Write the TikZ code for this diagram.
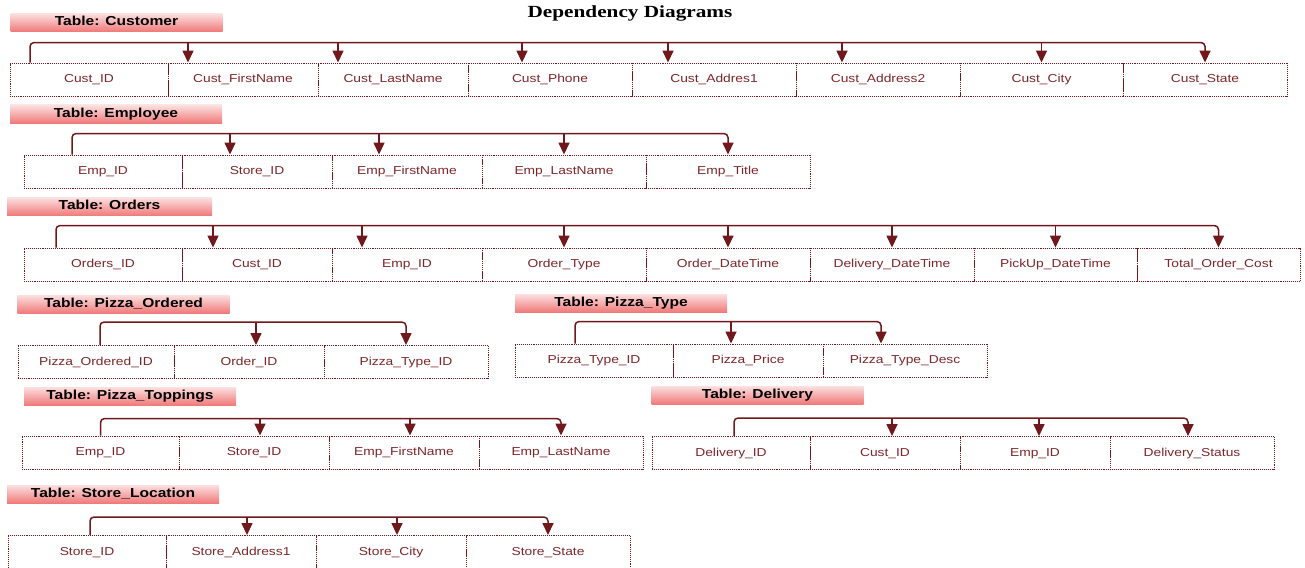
\documentclass[tikz,border=0pt]{standalone}
\usepackage{fontspec}
\newfontfamily\cellfont[FakeStretch=1.2]{Liberation Sans}
\newfontfamily\headfont[FakeStretch=1.25]{Liberation Serif}
\usepackage{tikz}
\usetikzlibrary{arrows.meta}
\definecolor{maroon}{RGB}{112,24,28}
\definecolor{celltext}{RGB}{125,38,42}
\definecolor{bandtop}{RGB}{252,224,224}
\definecolor{bandbot}{RGB}{240,122,122}

\begin{document}
\begin{tikzpicture}[
  x=1pt, y=-1pt,
  cell/.style={draw=maroon, densely dotted, line width=0.9pt, minimum height=33pt, inner sep=0pt,
    text height=8.5pt, text depth=2.5pt,
    text=celltext, font=\cellfont\fontsize{11.5}{12}\selectfont},
  band/.style={top color=bandtop, bottom color=bandbot, minimum width=212pt, minimum height=18pt,
    inner sep=0pt, text height=9.5pt, text depth=3pt, font=\cellfont\bfseries\fontsize{13}{13}\selectfont},
  dep/.style={draw=maroon, line width=1.5pt, rounded corners=4pt, -{Triangle[width=11pt,length=12pt]}},
  arr/.style={draw=maroon, line width=1.5pt, -{Triangle[width=11pt,length=12pt]}},
]
\useasboundingbox (0,0) rectangle (1305,567);

\node[font=\headfont\bfseries\fontsize{17}{17}\selectfont] (title) at (630,13) {Dependency Diagrams};

% CUSTOMER
\node[band] (tcust) at (116.5,22.5) {Table: Customer};
\node[cell, minimum width=158pt] (cust1) at (89,79.5) {Cust\_ID};
\node[cell, minimum width=150pt] (cust2) at (243,79.5) {Cust\_FirstName};
\node[cell, minimum width=150pt] (cust3) at (393,79.5) {Cust\_LastName};
\node[cell, minimum width=164pt] (cust4) at (550,79.5) {Cust\_Phone};
\node[cell, minimum width=164pt] (cust5) at (714,79.5) {Cust\_Addres1};
\node[cell, minimum width=164pt] (cust6) at (878,79.5) {Cust\_Address2};
\node[cell, minimum width=163pt] (cust7) at (1041.5,79.5) {Cust\_City};
\node[cell, minimum width=164pt] (cust8) at (1205,79.5) {Cust\_State};

\draw[dep] ([xshift=-59pt]cust1.north) |- ([yshift=20pt]cust8.north) -- (cust8.north);
\draw[arr] ([shift={(-55pt,20pt)}]cust2.north) -- ([xshift=-55pt]cust2.north);
\draw[arr] ([shift={(-55pt,20pt)}]cust3.north) -- ([xshift=-55pt]cust3.north);
\draw[arr] ([shift={(-28pt,20pt)}]cust4.north) -- ([xshift=-28pt]cust4.north);
\draw[arr] ([shift={(-46pt,20pt)}]cust5.north) -- ([xshift=-46pt]cust5.north);
\draw[arr] ([shift={(-36pt,20pt)}]cust6.north) -- ([xshift=-36pt]cust6.north);
\draw[arr] ([yshift=20pt]cust7.north) -- (cust7.north);

% EMPLOYEE
\node[band] (temp) at (116,114) {Table: Employee};
\node[cell, minimum width=158pt] (emp1) at (103,171.5) {Emp\_ID};
\node[cell, minimum width=150pt] (emp2) at (257,171.5) {Store\_ID};
\node[cell, minimum width=150pt] (emp3) at (407,171.5) {Emp\_FirstName};
\node[cell, minimum width=164pt] (emp4) at (564,171.5) {Emp\_LastName};
\node[cell, minimum width=164pt] (emp5) at (728,171.5) {Emp\_Title};

\draw[dep] ([xshift=-31pt]emp1.north) |- ([yshift=21pt]emp5.north) -- (emp5.north);
\draw[arr] ([shift={(-27pt,21pt)}]emp2.north) -- ([xshift=-27pt]emp2.north);
\draw[arr] ([shift={(-28pt,21pt)}]emp3.north) -- ([xshift=-28pt]emp3.north);
\draw[arr] ([yshift=21pt]emp4.north) -- (emp4.north);

% ORDERS
\node[band, minimum width=205pt] (tord) at (109.5,206.5) {Table: Orders};
\node[cell, minimum width=158pt] (ord1) at (103,264.5) {Orders\_ID};
\node[cell, minimum width=150pt] (ord2) at (257,264.5) {Cust\_ID};
\node[cell, minimum width=150pt] (ord3) at (407,264.5) {Emp\_ID};
\node[cell, minimum width=164pt] (ord4) at (564,264.5) {Order\_Type};
\node[cell, minimum width=164pt] (ord5) at (728,264.5) {Order\_DateTime};
\node[cell, minimum width=164pt] (ord6) at (892,264.5) {Delivery\_DateTime};
\node[cell, minimum width=163pt] (ord7) at (1055.5,264.5) {PickUp\_DateTime};
\node[cell, minimum width=163pt] (ord8) at (1218.5,264.5) {Total\_Order\_Cost};

\draw[dep] ([xshift=-47pt]ord1.north) |- ([yshift=22pt]ord8.north) -- (ord8.north);
\draw[arr] ([shift={(-44pt,22pt)}]ord2.north) -- ([xshift=-44pt]ord2.north);
\draw[arr] ([shift={(-45pt,22pt)}]ord3.north) -- ([xshift=-45pt]ord3.north);
\draw[arr] ([yshift=22pt]ord4.north) -- (ord4.north);
\draw[arr] ([yshift=22pt]ord5.north) -- (ord5.north);
\draw[arr] ([yshift=22pt]ord6.north) -- (ord6.north);
\draw[arr] ([yshift=22pt]ord7.north) -- (ord7.north);

% PIZZA_ORDERED
\node[band] (tpo) at (123.5,304) {Table: Pizza\_Ordered};
\node[cell, minimum width=156pt] (po1) at (96,362) {Pizza\_Ordered\_ID};
\node[cell, minimum width=150pt] (po2) at (249,362) {Order\_ID};
\node[cell, minimum width=164pt] (po3) at (406,362) {Pizza\_Type\_ID};

\draw[dep] ([xshift=4pt]po1.north) |- ([yshift=23pt]po3.north) -- (po3.north);
\draw[arr] ([shift={(7pt,23pt)}]po2.north) -- ([xshift=7pt]po2.north);

% PIZZA_TYPE
\node[band] (tpt) at (621,303) {Table: Pizza\_Type};
\node[cell, minimum width=158pt] (pt1) at (594,360.5) {Pizza\_Type\_ID};
\node[cell, minimum width=150pt] (pt2) at (748,360.5) {Pizza\_Price};
\node[cell, minimum width=164pt] (pt3) at (905,360.5) {Pizza\_Type\_Desc};

\draw[dep] ([xshift=-19pt]pt1.north) |- ([shift={(-24pt,22pt)}]pt3.north) -- ([xshift=-24pt]pt3.north);
\draw[arr] ([shift={(-17pt,22pt)}]pt2.north) -- ([xshift=-17pt]pt2.north);

% PIZZA_TOPPINGS
\node[band] (ttop) at (130,396) {Table: Pizza\_Toppings};
\node[cell, minimum width=157pt] (top1) at (100.5,452.5) {Emp\_ID};
\node[cell, minimum width=150pt] (top2) at (254,452.5) {Store\_ID};
\node[cell, minimum width=150pt] (top3) at (404,452.5) {Emp\_FirstName};
\node[cell, minimum width=164pt] (top4) at (561,452.5) {Emp\_LastName};

\draw[dep] (top1.north) |- ([yshift=17pt]top4.north) -- (top4.north);
\draw[arr] ([shift={(6pt,17pt)}]top2.north) -- ([xshift=6pt]top2.north);
\draw[arr] ([shift={(6pt,17pt)}]top3.north) -- ([xshift=6pt]top3.north);

% DELIVERY
\node[band] (tdel) at (757.5,395) {Table: Delivery};
\node[cell, minimum width=158pt] (del1) at (731,453) {Delivery\_ID};
\node[cell, minimum width=150pt] (del2) at (885,453) {Cust\_ID};
\node[cell, minimum width=150pt] (del3) at (1035,453) {Emp\_ID};
\node[cell, minimum width=164pt] (del4) at (1192,453) {Delivery\_Status};

\draw[dep] ([xshift=3pt]del1.north) |- ([shift={(-4pt,18pt)}]del4.north) -- ([xshift=-4pt]del4.north);
\draw[arr] ([shift={(7pt,18pt)}]del2.north) -- ([xshift=7pt]del2.north);
\draw[arr] ([shift={(4pt,18pt)}]del3.north) -- ([xshift=4pt]del3.north);

% STORE_LOCATION
\node[band] (tsto) at (113,494) {Table: Store\_Location};
\node[cell, minimum width=158pt] (sto1) at (87,552) {Store\_ID};
\node[cell, minimum width=150pt] (sto2) at (241,552) {Store\_Address1};
\node[cell, minimum width=150pt] (sto3) at (391,552) {Store\_City};
\node[cell, minimum width=164pt] (sto4) at (548,552) {Store\_State};

\draw[dep] ([xshift=3pt]sto1.north) |- ([yshift=18pt]sto4.north) -- (sto4.north);
\draw[arr] ([shift={(6pt,18pt)}]sto2.north) -- ([xshift=6pt]sto2.north);
\draw[arr] ([shift={(6pt,18pt)}]sto3.north) -- ([xshift=6pt]sto3.north);
\end{tikzpicture}
\end{document}
